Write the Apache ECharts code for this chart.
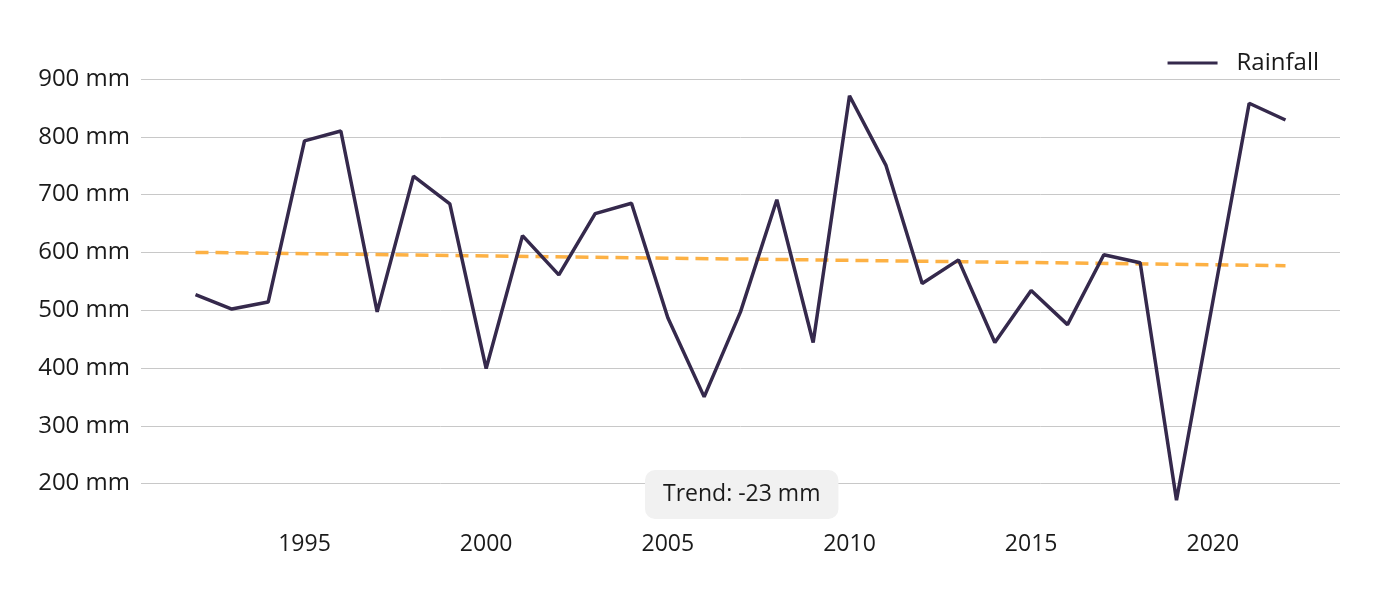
<!DOCTYPE html>
<html>
<head>
<meta charset="utf-8">
<script src="https://cdn.jsdelivr.net/npm/echarts@6/dist/echarts.min.js"></script>
<style>
html,body{margin:0;padding:0;background:#fff;}
#chart{width:1379px;height:595px;}
</style>
</head>
<body>
<div id="chart"></div>
<script>
const years = [1992,1993,1994,1995,1996,1997,1998,1999,2000,2001,2002,2003,2004,2005,2006,2007,2008,2009,2010,2011,2012,2013,2014,2015,2016,2017,2018,2019,2020,2021,2022];
const rainfall = [527,502,514,793,810,497,732,684,399,629,561,667,685,487,350,497,691,444,871,751,546,587,444,534,475,596,582,171,515,858,829];
const trendYears = [1992, 2022];
const trendValues = [600, 577];
const yTicks = [200,300,400,500,600,700,800,900];
const xTicks = [1995,2000,2005,2010,2015,2020];

const font = "'Open Sans', 'Noto Sans', sans-serif";
const trendDelta = trendValues[1] - trendValues[0];

const chart = echarts.init(document.getElementById('chart'), null, {renderer:'canvas'});
chart.setOption({
  animation:false,
  textStyle:{fontFamily:font},
  grid:{left:141, right:39, top:79, bottom:71, containLabel:false},
  legend:{
    right:55, top:46,
    data:['Rainfall'],
    icon:'rect', itemWidth:50, itemHeight:3,
    textStyle:{fontFamily:font, fontSize:24, color:'#1a1a1a', padding:[0,0,0,14]}
  },
  title:{
    text:'Trend: ' + trendDelta + ' mm',
    left:645, top:470,
    padding:[13,18,13,18],
    backgroundColor:'#f1f1f1',
    borderRadius:10,
    textStyle:{fontFamily:font, fontSize:23, fontWeight:'normal', color:'#1a1a1a'}
  },
  xAxis:{
    type:'value', min:1990.5, max:2023.5,
    axisLine:{show:false}, axisTick:{show:false, customValues:xTicks},
    splitLine:{show:false},
    axisLabel:{customValues:xTicks, fontFamily:font, fontSize:23, color:'#1a1a1a', margin:9, formatter:v=>String(v)}
  },
  yAxis:{
    type:'value', min:130, max:900,
    axisLine:{show:false},
    axisTick:{show:false, customValues:yTicks},
    splitLine:{show:true, lineStyle:{color:'#c8c8c8', width:1}},
    axisLabel:{customValues:yTicks, fontFamily:font, fontSize:24, color:'#1a1a1a', margin:11, formatter:v=>v+' mm'}
  },
  series:[
    {
      name:'Rainfall', type:'line',
      data:years.map((y,i)=>[y, rainfall[i]]),
      symbol:'none',
      lineStyle:{color:'#35294c', width:3.5},
      itemStyle:{color:'#35294c'},
      z:3
    },
    {
      name:'Trend', type:'line',
      data:trendYears.map((y,i)=>[y, trendValues[i]]),
      symbol:'none',
      lineStyle:{color:'#fdb144', width:3.5, type:[13,7]},
      itemStyle:{color:'#fdb144'},
      z:2
    }
  ]
});
</script>
</body>
</html>
